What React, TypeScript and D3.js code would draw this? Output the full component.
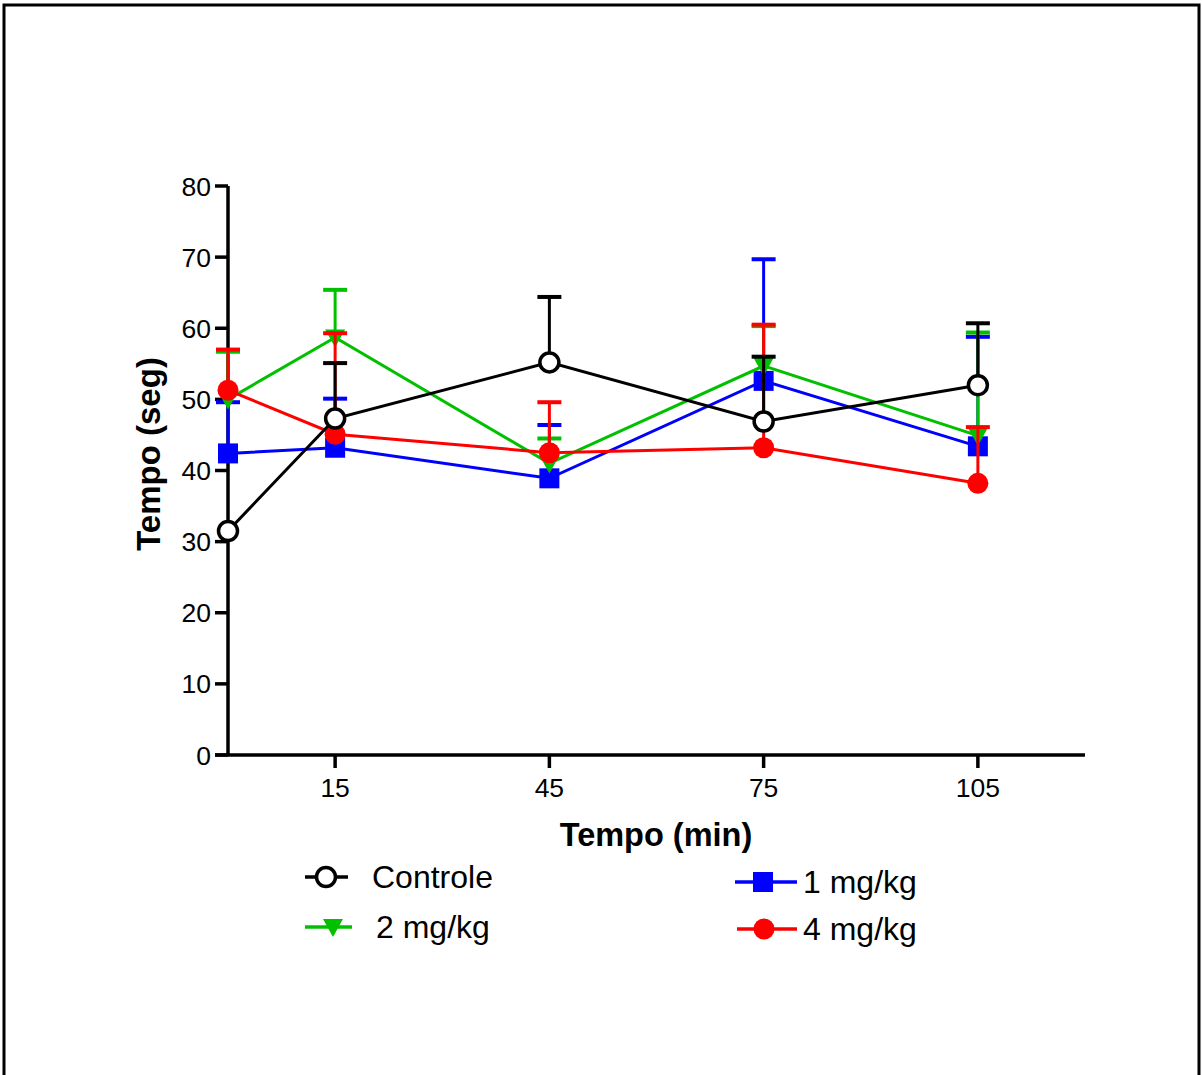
import React from "react";
import * as d3 from "d3";

const times = [0, 15, 45, 75, 105];
const xTicks = [15, 45, 75, 105];
const yTicks = [0, 10, 20, 30, 40, 50, 60, 70, 80];

const controleMean = [31.5, 47.3, 55.2, 46.9, 52.0];
const controleSem = [0, 7.8, 9.2, 9.1, 8.7];
const mg1Mean = [42.4, 43.2, 38.9, 52.6, 43.4];
const mg1Sem = [7.2, 6.9, 7.5, 17.1, 15.4];
const mg2Mean = [50.0, 58.7, 41.0, 54.7, 44.9];
const mg2Sem = [6.7, 6.7, 3.5, 5.6, 14.5];
const mg4Mean = [51.3, 45.1, 42.5, 43.2, 38.2];
const mg4Sem = [5.7, 14.2, 7.1, 17.3, 7.9];

type Series = { name: string; color: string; shape: string; mean: number[]; sem: number[] };

// drawing order: blue, green, red, black (black on top)
const series: Series[] = [
  { name: "1 mg/kg", color: "#0000ff", shape: "square", mean: mg1Mean, sem: mg1Sem },
  { name: "2 mg/kg", color: "#00c000", shape: "triangle", mean: mg2Mean, sem: mg2Sem },
  { name: "4 mg/kg", color: "#ff0000", shape: "dot", mean: mg4Mean, sem: mg4Sem },
  { name: "Controle", color: "#000000", shape: "open", mean: controleMean, sem: controleSem },
];

const FONT = "'Liberation Sans', Arial, Helvetica, sans-serif";

function Marker({ shape, color, x, y }: { shape: string; color: string; x: number; y: number }) {
  if (shape === "square") return <rect x={x - 10} y={y - 10} width={20} height={20} fill={color} />;
  if (shape === "triangle")
    return <path d={`M${x - 10},${y - 8} L${x + 10},${y - 8} L${x},${y + 10} Z`} fill={color} />;
  if (shape === "dot") return <circle cx={x} cy={y} r={10.5} fill={color} />;
  return <circle cx={x} cy={y} r={9.5} fill="#fff" stroke={color} strokeWidth={3.5} />;
}

export default function App() {
  const x = d3.scaleLinear().domain([0, 120]).range([228, 1085]);
  const y = d3.scaleLinear().domain([0, 80]).range([755, 186]);
  const line = d3
    .line<number>()
    .x((_, i) => x(times[i]))
    .y((d) => y(d));

  const legend = [
    { s: series[3], lx: 305, lw: 43, ly: 877, mx: 326, tx: 372 },
    { s: series[1], lx: 305, lw: 47, ly: 927, mx: 333, tx: 376 },
    { s: series[0], lx: 735, lw: 62, ly: 882, mx: 763, tx: 803 },
    { s: series[2], lx: 737, lw: 60, ly: 929, mx: 764, tx: 803 },
  ];

  return (
    <svg
      width={1202}
      height={1075}
      style={{ position: "absolute", left: 0, top: 0, background: "#fff" }}
      fontFamily={FONT}
    >
      <rect x={4} y={5} width={1195} height={1100} fill="none" stroke="#000" strokeWidth={3} />

      {/* axes */}
      <line x1={228} x2={228} y1={y(80)} y2={y(0)} stroke="#000" strokeWidth={3.5} />
      <line x1={215} x2={1085} y1={y(0)} y2={y(0)} stroke="#000" strokeWidth={3.5} />
      {yTicks.map((t) => (
        <g key={t}>
          <line x1={215} x2={228} y1={y(t)} y2={y(t)} stroke="#000" strokeWidth={3.5} />
          <text x={211} y={y(t)} dy="0.36em" textAnchor="end" fontSize={26.5}>
            {t}
          </text>
        </g>
      ))}
      {xTicks.map((t) => (
        <g key={t}>
          <line x1={x(t)} x2={x(t)} y1={y(0)} y2={y(0) + 13} stroke="#000" strokeWidth={3.5} />
          <text x={x(t)} y={797} textAnchor="middle" fontSize={26.5}>
            {t}
          </text>
        </g>
      ))}
      <text x={656} y={846} textAnchor="middle" fontSize={32.5} fontWeight="bold">
        Tempo (min)
      </text>
      <text
        transform={`translate(160,${454}) rotate(-90)`}
        textAnchor="middle"
        fontSize={33}
        fontWeight="bold"
      >
        Tempo (seg)
      </text>

      {/* series */}
      {series.map((s) => (
        <g key={s.name}>
          <path d={line(s.mean) || ""} fill="none" stroke={s.color} strokeWidth={3} />
          {s.mean.map((m, i) =>
            s.sem[i] > 0 ? (
              <g key={i}>
                <line
                  x1={x(times[i])}
                  x2={x(times[i])}
                  y1={y(m)}
                  y2={y(m + s.sem[i])}
                  stroke={s.color}
                  strokeWidth={3}
                />
                <line
                  x1={x(times[i]) - 12}
                  x2={x(times[i]) + 12}
                  y1={y(m + s.sem[i])}
                  y2={y(m + s.sem[i])}
                  stroke={s.color}
                  strokeWidth={4}
                />
              </g>
            ) : null
          )}
          {s.mean.map((m, i) => (
            <Marker key={i} shape={s.shape} color={s.color} x={x(times[i])} y={y(m)} />
          ))}
        </g>
      ))}

      {/* legend */}
      {legend.map((l) => (
        <g key={l.s.name}>
          <line x1={l.lx} x2={l.lx + l.lw} y1={l.ly} y2={l.ly} stroke={l.s.color} strokeWidth={3.5} />
          <Marker shape={l.s.shape} color={l.s.color} x={l.mx} y={l.ly} />
          <text x={l.tx} y={l.ly + 11} fontSize={32}>
            {l.s.name}
          </text>
        </g>
      ))}
    </svg>
  );
}
